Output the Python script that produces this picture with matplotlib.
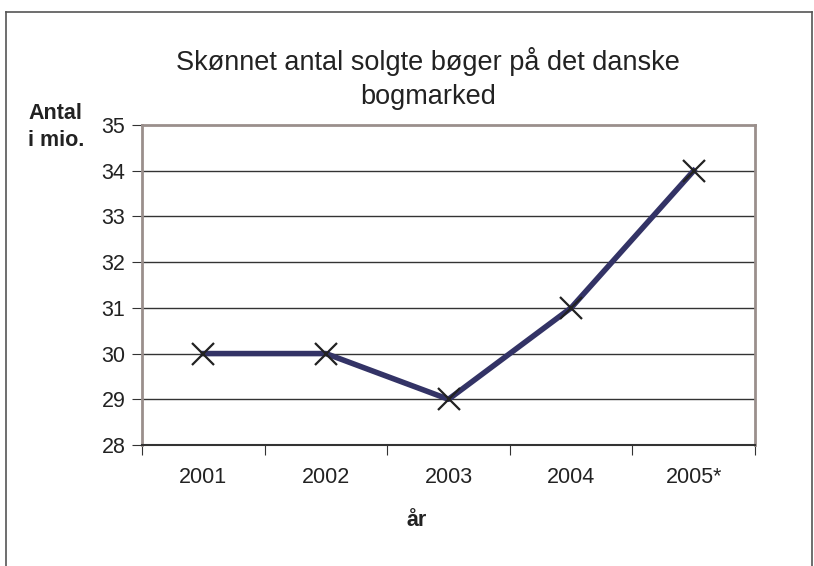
import matplotlib
matplotlib.use("Agg")
from matplotlib import pyplot as plt
from matplotlib.lines import Line2D

years = ["2001", "2002", "2003", "2004", "2005*"]
books = [30, 30, 29, 31, 34]
yticks = [28, 29, 30, 31, 32, 33, 34, 35]

plt.rcParams["font.family"] = ["Liberation Sans", "DejaVu Sans"]

W, H = 814, 566
fig = plt.figure(figsize=(W / 100, H / 100), dpi=100)

# outer chart border (bottom is cut off in the original)
fig.add_artist(Line2D([6 / W, 6 / W], [0, 1 - 12 / H], color="#555555", lw=1.2))
fig.add_artist(Line2D([6 / W, 812 / W], [1 - 12 / H, 1 - 12 / H], color="#555555", lw=1.2))
fig.add_artist(Line2D([812 / W, 812 / W], [0, 1 - 12 / H], color="#555555", lw=1.2))

x0, x1, ytop, ybot = 142, 755, 125, 445
ax = fig.add_axes([x0 / W, 1 - ybot / H, (x1 - x0) / W, (ybot - ytop) / H])

xs = list(range(len(years)))
ax.plot(xs, books, color="#333366", lw=4, zorder=3)
ax.plot(xs, books, ls="none", marker="x", ms=16, mew=1.6, color="#222222", zorder=4)

ax.set_xlim(-0.5, len(years) - 0.5)
ax.set_ylim(28, 35)
ax.set_yticks(yticks)
ax.set_yticklabels([str(t) for t in yticks], fontsize=15.5, color="#222222")
for t in yticks[1:-1]:
    ax.axhline(t, color="#333333", lw=1, zorder=1)

ax.set_xticks([i - 0.5 for i in range(len(years) + 1)])
ax.set_xticklabels([])
ax.set_xticks(xs, minor=True)
ax.set_xticklabels(years, minor=True, fontsize=15.5, color="#222222")
ax.tick_params(axis="x", which="major", length=7, direction="out", color="#333333")
ax.tick_params(axis="x", which="minor", length=0, pad=16)
ax.tick_params(axis="y", length=7, direction="out", color="#333333", pad=5)

for side in ["top", "right", "left"]:
    ax.spines[side].set_color("#9a8f8c")
    ax.spines[side].set_linewidth(2)
ax.spines["bottom"].set_color("#333333")
ax.spines["bottom"].set_linewidth(1.5)

fig.text(428 / W, 1 - 78 / H, "Skønnet antal solgte bøger på det danske\nbogmarked",
         ha="center", va="center", fontsize=19.5, color="#222222", linespacing=1.4)
fig.text(28 / W, 1 - 127 / H, "Antal\ni mio.", ha="left", va="center",
         fontsize=15.5, fontweight="bold", color="#222222", linespacing=1.4)
fig.text(417 / W, 1 - 521 / H, "år", ha="center", va="center",
         fontsize=15.5, fontweight="bold", color="#222222")

fig.savefig("out.png", dpi=100)
